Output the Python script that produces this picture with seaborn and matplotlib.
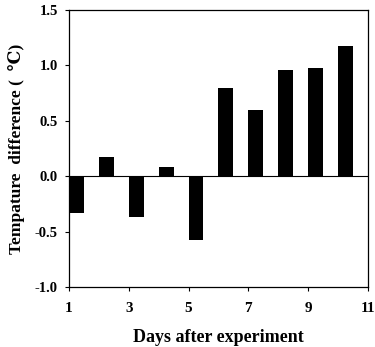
import matplotlib
matplotlib.use("Agg")
import matplotlib.pyplot as plt
import seaborn as sns
import pandas as pd

days = [1, 2, 3, 4, 5, 6, 7, 8, 9, 10]
temp_diff = [-0.33, 0.17, -0.37, 0.08, -0.58, 0.80, 0.60, 0.96, 0.98, 1.18]
x_ticks = [1, 3, 5, 7, 9, 11]
y_ticks = [-1.0, -0.5, 0.0, 0.5, 1.0, 1.5]
x_label = "Days after experiment"
y_label = "Tempature  difference (  \u2103)"

sns.set_theme(style="ticks")
plt.rcParams["font.family"] = ["Liberation Serif", "DejaVu Serif"]
plt.rcParams["font.weight"] = "bold"
plt.rcParams["text.color"] = "black"
plt.rcParams["axes.labelcolor"] = "black"
plt.rcParams["xtick.color"] = "black"
plt.rcParams["ytick.color"] = "black"

df = pd.DataFrame({"day": days, "diff": temp_diff})

fig = plt.figure(figsize=(3.75, 3.47), dpi=100)
ax = fig.add_axes([0.184, 0.173, 0.797, 0.798])

sns.barplot(data=df, x="day", y="diff", native_scale=True, width=0.5,
            color="black", saturation=1, edgecolor="none", linewidth=0, ax=ax)
# left-align bars on their day value
for p in ax.patches:
    p.set_x(p.get_x() + p.get_width() / 2)

ax.axhline(0, color="black", lw=0.8)
ax.set_xlim(1, 11)
ax.set_ylim(-1.0, 1.5)
ax.set_xticks(x_ticks)
ax.set_xticklabels([str(t) for t in x_ticks], fontweight="bold", fontsize=11)
ax.set_yticks(y_ticks)
ax.set_yticklabels([f"{t:.1f}" for t in y_ticks], fontweight="bold", fontsize=10.5)
ax.tick_params(axis="both", direction="out", length=3, width=0.8, color="black")
ax.tick_params(axis="x", pad=8)
ax.tick_params(axis="y", pad=5)
for s in ax.spines.values():
    s.set_visible(True)
    s.set_color("black")
    s.set_linewidth(0.9)
ax.set_xlabel(x_label, fontsize=13, fontweight="bold", labelpad=10)
ax.set_ylabel(y_label, fontsize=12.5, fontweight="bold", labelpad=7)

fig.savefig("out.png", dpi=100)
